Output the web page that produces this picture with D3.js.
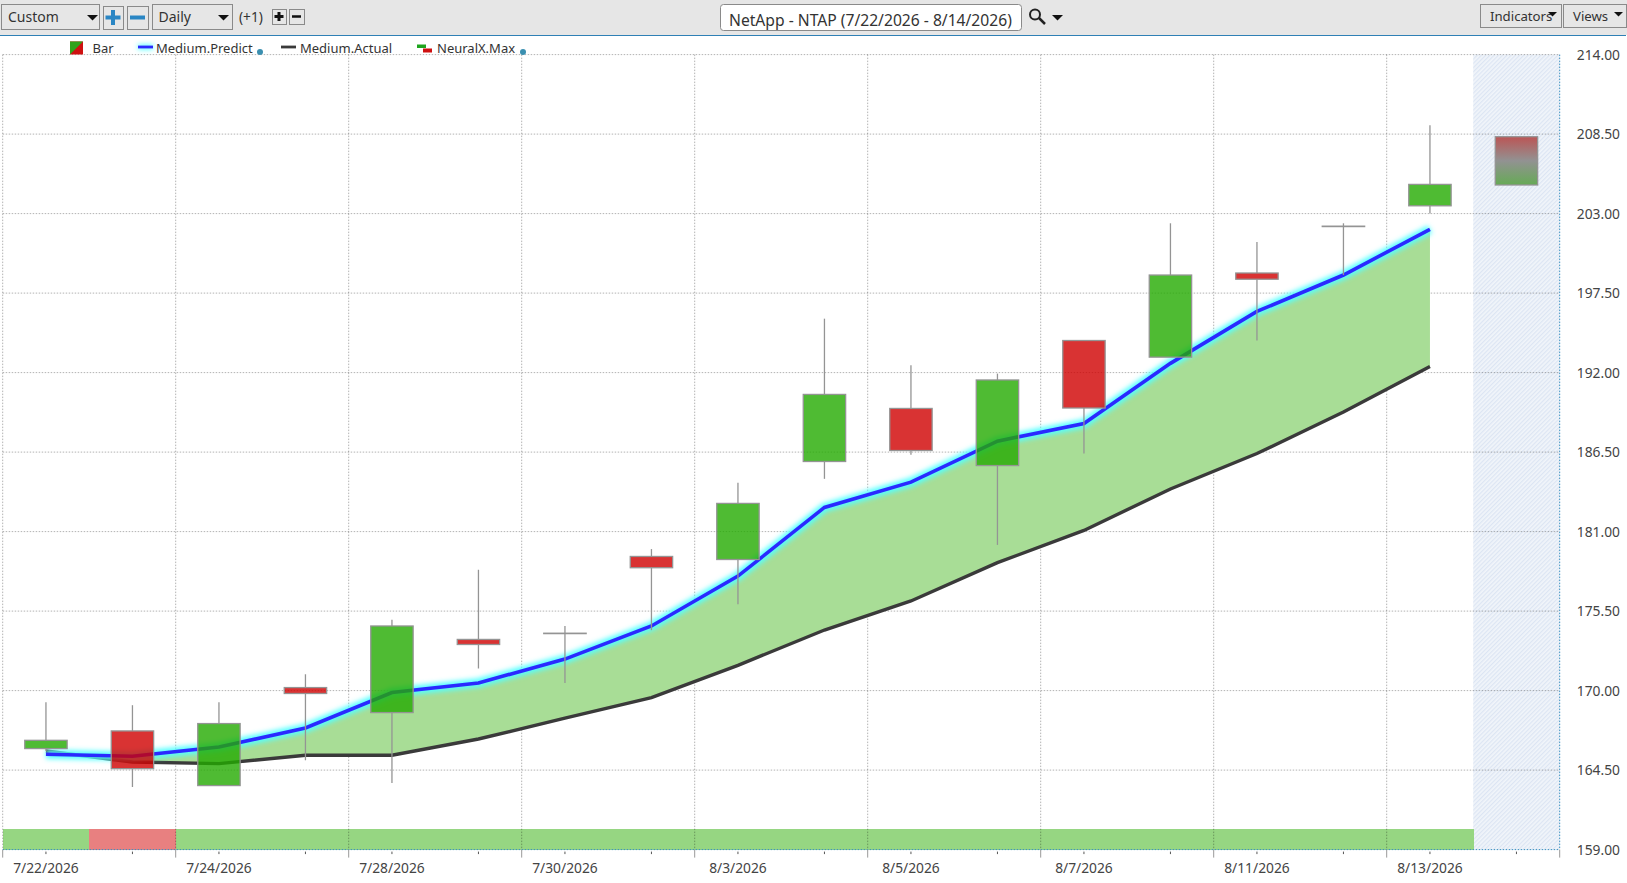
<!DOCTYPE html>
<html>
<head>
<meta charset="utf-8">
<script src="https://cdn.jsdelivr.net/npm/d3@7"></script>
<style>
html, body { margin: 0; padding: 0; background: #fff; overflow: hidden; }
text { font-family: "Noto Sans", "Open Sans", sans-serif; fill: #333; }
.axis path, .axis line { display: none; }
.axis text { font-size: 13.8px; fill: #444; }
</style>
</head>
<body>
<div id="chart"></div>
<script>
var dates = ["7/22/2026","7/23/2026","7/24/2026","7/27/2026","7/28/2026","7/29/2026","7/30/2026","7/31/2026","8/3/2026","8/4/2026","8/5/2026","8/6/2026","8/7/2026","8/10/2026","8/11/2026","8/12/2026","8/13/2026","8/14/2026"];
// date labels only on every other bar
var shownLabels = ["7/22/2026","7/24/2026","7/28/2026","7/30/2026","8/3/2026","8/5/2026","8/7/2026","8/11/2026","8/13/2026"];
var yTicks = [159,164.5,170,175.5,181,186.5,192,197.5,203,208.5,214];

var opens  = [165.99,167.21,163.43,170.21,168.48,173.54,173.97,179.28,179.07,185.85,189.52,185.57,194.22,193.07,198.89,202.13,203.54];
var closes = [166.56,164.60,167.72,169.80,174.47,173.19,173.97,178.50,182.95,190.49,186.61,191.49,189.55,198.75,198.46,202.13,205.02];
var highs  = [169.19,168.99,169.19,171.13,174.91,178.36,174.47,179.79,184.38,195.73,192.50,191.93,194.22,202.33,201.04,202.33,209.12];
var lows   = [165.82,163.33,163.43,165.18,163.61,171.53,170.53,174.18,175.98,184.65,186.31,180.08,186.40,193.07,194.22,198.75,203.00];
var predicted = [165.60,165.46,166.10,167.41,169.87,170.53,172.18,174.47,177.92,182.67,184.42,187.26,188.48,192.64,196.23,198.75,201.91];
var actual    = [165.82,165.06,164.95,165.53,165.53,166.65,168.09,169.52,171.75,174.19,176.20,178.85,181.08,183.95,186.40,189.27,192.43];
var signal    = [1,-1,1,1,1,1,1,1,1,1,1,1,1,1,1,1,1];
var nextBar   = {top: 208.32, bottom: 204.98};

var width = 1627, height = 883;
var plotLeft = 2.7, plotRight = 1559.7, plotTop = 54.6, plotBottom = 849.6;

var svg = d3.select("#chart").append("svg")
    .attr("width", width)
    .attr("height", height)
    .style("display", "block");

var defs = svg.append("defs");
var hatch = defs.append("pattern")
    .attr("id", "hatch")
    .attr("width", 3).attr("height", 3)
    .attr("patternUnits", "userSpaceOnUse")
    .attr("patternTransform", "rotate(45)");
hatch.append("rect").attr("width", 3).attr("height", 3).attr("fill", "#f1f5fa");
hatch.append("rect").attr("width", 1.2).attr("height", 3).attr("fill", "#dce5f3");

defs.append("filter").attr("id", "glow")
    .attr("filterUnits", "userSpaceOnUse")
    .attr("x", 0).attr("y", 0).attr("width", width).attr("height", height)
    .append("feGaussianBlur").attr("stdDeviation", 2.6);

var grad = defs.append("linearGradient").attr("id", "nextGrad")
    .attr("x1", 0).attr("y1", 0).attr("x2", 0).attr("y2", 1);
grad.append("stop").attr("offset", "0%").attr("stop-color", "#bb5555");
grad.append("stop").attr("offset", "50%").attr("stop-color", "#929292");
grad.append("stop").attr("offset", "100%").attr("stop-color", "#66aa55");

var x = d3.scaleBand().domain(dates).range([plotLeft, plotRight]);
var y = d3.scaleLinear().domain([159, 214]).range([plotBottom, plotTop]);
var cx = function(i) { return x(dates[i]) + x.bandwidth() / 2; };
var bodyW = x.bandwidth() * 0.49;

// forecast zone
svg.append("rect")
    .attr("x", x(dates[17])).attr("y", plotTop)
    .attr("width", plotRight - x(dates[17])).attr("height", plotBottom - plotTop)
    .attr("fill", "url(#hatch)");

// signal strip along the bottom
svg.append("g").attr("shape-rendering", "crispEdges").selectAll("rect")
    .data(signal)
    .enter().append("rect")
    .attr("x", function(d, i) { return x(dates[i]); })
    .attr("y", plotBottom - 20.5)
    .attr("width", x.bandwidth() + 0.5)
    .attr("height", 20.5)
    .attr("fill", function(d) { return d > 0 ? "#96d682" : "#e88080"; });

// grid
var grid = svg.append("g")
    .attr("stroke", "#000").attr("stroke-opacity", 0.3)
    .attr("stroke-dasharray", "1.5,1.5");
grid.selectAll(".h")
    .data(yTicks.slice(1))
    .enter().append("line")
    .attr("x1", plotLeft).attr("x2", plotRight)
    .attr("y1", function(d) { return y(d); })
    .attr("y2", function(d) { return y(d); });
var gridX = dates.filter(function(d, i) { return i % 2 == 0; }).map(function(d) { return x(d); });
grid.selectAll(".v")
    .data(gridX)
    .enter().append("line")
    .attr("x1", function(d) { return d; })
    .attr("x2", function(d) { return d; })
    .attr("y1", plotTop).attr("y2", plotBottom);

// borders of plot
var border = svg.append("g").attr("stroke", "#3a8fc0").attr("stroke-dasharray", "1.5,1.5");
border.append("line").attr("x1", plotLeft).attr("x2", plotRight).attr("y1", plotBottom).attr("y2", plotBottom);
border.append("line").attr("x1", plotRight).attr("x2", plotRight).attr("y1", plotTop).attr("y2", plotBottom);

// axis ticks below the plot
svg.append("g").attr("stroke", "#999")
    .selectAll("line")
    .data(gridX.concat([plotRight]))
    .enter().append("line")
    .attr("x1", function(d) { return d; })
    .attr("x2", function(d) { return d; })
    .attr("y1", plotBottom).attr("y2", plotBottom + 8);
svg.append("g").attr("stroke", "#555")
    .selectAll("line")
    .data(dates)
    .enter().append("line")
    .attr("x1", function(d, i) { return cx(i); })
    .attr("x2", function(d, i) { return cx(i); })
    .attr("y1", plotBottom + 2).attr("y2", plotBottom + 4.5);

// band between predict and actual
var area = d3.area()
    .x(function(d, i) { return cx(i); })
    .y0(function(d, i) { return y(actual[i]); })
    .y1(function(d) { return y(d); });
svg.append("path").datum(predicted)
    .attr("d", area)
    .attr("fill", "#a8dd96");

var line = d3.line()
    .x(function(d, i) { return cx(i); })
    .y(function(d) { return y(d); });

svg.append("path").datum(actual)
    .attr("d", line)
    .attr("fill", "none")
    .attr("stroke", "#3a3a3a")
    .attr("stroke-width", 3.4);
svg.append("path").datum(predicted)
    .attr("d", line)
    .attr("fill", "none")
    .attr("stroke", "#55ffff")
    .attr("stroke-width", 9)
    .attr("filter", "url(#glow)");
svg.append("path").datum(predicted)
    .attr("d", line)
    .attr("fill", "none")
    .attr("stroke", "#2a2aff")
    .attr("stroke-width", 3.6);

// candles
var candle = svg.append("g").selectAll("g")
    .data(opens)
    .enter().append("g");
candle.append("line")
    .attr("x1", function(d, i) { return cx(i); })
    .attr("x2", function(d, i) { return cx(i); })
    .attr("y1", function(d, i) { return y(highs[i]); })
    .attr("y2", function(d, i) { return y(Math.max(d, closes[i])); })
    .attr("stroke", "#949494")
    .attr("stroke-width", 1.3);
candle.append("line")
    .attr("x1", function(d, i) { return cx(i); })
    .attr("x2", function(d, i) { return cx(i); })
    .attr("y1", function(d, i) { return y(Math.min(d, closes[i])); })
    .attr("y2", function(d, i) { return y(lows[i]); })
    .attr("stroke", "#949494")
    .attr("stroke-width", 1.3);
candle.append("rect")
    .attr("x", function(d, i) { return cx(i) - bodyW / 2; })
    .attr("y", function(d, i) { return y(Math.max(d, closes[i])); })
    .attr("width", bodyW)
    .attr("height", function(d, i) { return Math.max(0.4, Math.abs(y(d) - y(closes[i]))); })
    .attr("fill", function(d, i) { return closes[i] >= d ? "#23aa00" : "#cf0000"; })
    .attr("fill-opacity", 0.8)
    .attr("stroke", "#949494")
    .attr("stroke-width", 1.3);

// next bar guess in the forecast zone
svg.append("rect")
    .attr("x", cx(17) - bodyW / 2)
    .attr("y", y(nextBar.top))
    .attr("width", bodyW)
    .attr("height", y(nextBar.bottom) - y(nextBar.top))
    .attr("fill", "url(#nextGrad)")
    .attr("stroke", "#949494")
    .attr("stroke-width", 1.3);

// axes
var yAxis = d3.axisRight(y)
    .tickValues(yTicks)
    .tickFormat(d3.format(".2f"))
    .tickSize(0);
svg.append("g").attr("class", "axis")
    .attr("transform", "translate(1620,0.4)")
    .call(yAxis)
    .selectAll("text").attr("x", 0).attr("text-anchor", "end");

var xAxis = d3.axisBottom(x)
    .tickValues(shownLabels)
    .tickSize(0);
svg.append("g").attr("class", "axis")
    .attr("transform", "translate(0," + (plotBottom + 11) + ")")
    .call(xAxis);

// toolbar
var bar = svg.append("g");
bar.append("rect").attr("width", width).attr("height", 35).attr("fill", "#e6e6e6");
bar.append("line").attr("x1", 0).attr("x2", 1626).attr("y1", 35.5).attr("y2", 35.5).attr("stroke", "#2f80b5").attr("stroke-width", 1);

function box(x0, y0, w, h, fill, rx) {
    bar.append("rect").attr("x", x0 + 0.5).attr("y", y0 + 0.5).attr("width", w).attr("height", h)
        .attr("fill", fill || "none").attr("stroke", "#8a8a8a").attr("stroke-width", 1).attr("rx", rx || 0);
}
function label(txt, x0, y0, size) {
    bar.append("text").attr("x", x0).attr("y", y0).attr("font-size", size || 14).text(txt);
}
function arrow(x0, y0, w) {
    bar.append("path").attr("d", "M" + x0 + "," + y0 + "h" + w + "l" + (-w / 2) + "," + (w / 2) + "z").attr("fill", "#111");
}
function plusMinus(x0, y0, s, t, color, plus) {
    bar.append("rect").attr("x", x0 - s).attr("y", y0 - t / 2).attr("width", 2 * s).attr("height", t).attr("fill", color);
    if (plus) bar.append("rect").attr("x", x0 - t / 2).attr("y", y0 - s).attr("width", t).attr("height", 2 * s).attr("fill", color);
}

box(1, 4, 98, 25); label("Custom", 8, 22); arrow(87, 15, 11);
box(103, 6, 20, 23); plusMinus(113, 17.5, 7.5, 4, "#2a86c4", true);
box(127, 6, 21, 23); plusMinus(137.5, 17.5, 7.5, 4, "#2a86c4", false);
box(152, 4, 80, 25); label("Daily", 158.5, 22); arrow(218, 15, 11);
label("(+1)", 239, 22, 13.7);
box(272, 9, 14, 15); plusMinus(279, 16.5, 4.5, 3, "#111", true);
box(289, 9, 15, 15); plusMinus(296.5, 16.5, 4.5, 2.5, "#111", false);
box(720, 4, 301, 26, "#fff", 3);
label("NetApp - NTAP (7/22/2026 - 8/14/2026)", 729, 26, 15.65);
bar.append("circle").attr("cx", 1035).attr("cy", 14.5).attr("r", 5).attr("fill", "none").attr("stroke", "#222").attr("stroke-width", 2);
bar.append("line").attr("x1", 1039).attr("y1", 18).attr("x2", 1045).attr("y2", 24).attr("stroke", "#222").attr("stroke-width", 2.5);
arrow(1052, 15, 11);
box(1480, 4, 81, 23); label("Indicators", 1490, 21, 13.2); arrow(1548, 12, 9);
box(1563, 4, 63, 23); label("Views", 1573, 21, 13.2); arrow(1614, 12, 9);

// legend
var legend = svg.append("g");
function legendText(txt, x0) {
    legend.append("text").attr("x", x0).attr("y", 53).attr("font-size", 13).text(txt);
}
legend.append("rect").attr("x", 70).attr("y", 41.5).attr("width", 13).attr("height", 13).attr("fill", "#cf1111");
legend.append("path").attr("d", "M70,41.5h13l-13,13z").attr("fill", "#2fa31a");
legendText("Bar", 92.5);
legend.append("line").attr("x1", 138).attr("x2", 153).attr("y1", 47).attr("y2", 47).attr("stroke", "#55ffff").attr("stroke-width", 5).attr("filter", "url(#glow)");
legend.append("line").attr("x1", 138).attr("x2", 153).attr("y1", 47).attr("y2", 47).attr("stroke", "#2a2aff").attr("stroke-width", 2.8);
legendText("Medium.Predict", 156);
legend.append("circle").attr("cx", 260).attr("cy", 52).attr("r", 3).attr("fill", "#3a8fb0");
legend.append("line").attr("x1", 281).attr("x2", 296).attr("y1", 47).attr("y2", 47).attr("stroke", "#3a3a3a").attr("stroke-width", 2.8);
legendText("Medium.Actual", 300);
legend.append("rect").attr("x", 417).attr("y", 44.5).attr("width", 9).attr("height", 3.5).attr("fill", "#1ea51e");
legend.append("rect").attr("x", 423).attr("y", 48.5).attr("width", 9).attr("height", 4).attr("fill", "#cf1111");
legendText("NeuralX.Max", 437);
legend.append("circle").attr("cx", 523).attr("cy", 52).attr("r", 3).attr("fill", "#3a8fb0");
</script>
</body>
</html>
